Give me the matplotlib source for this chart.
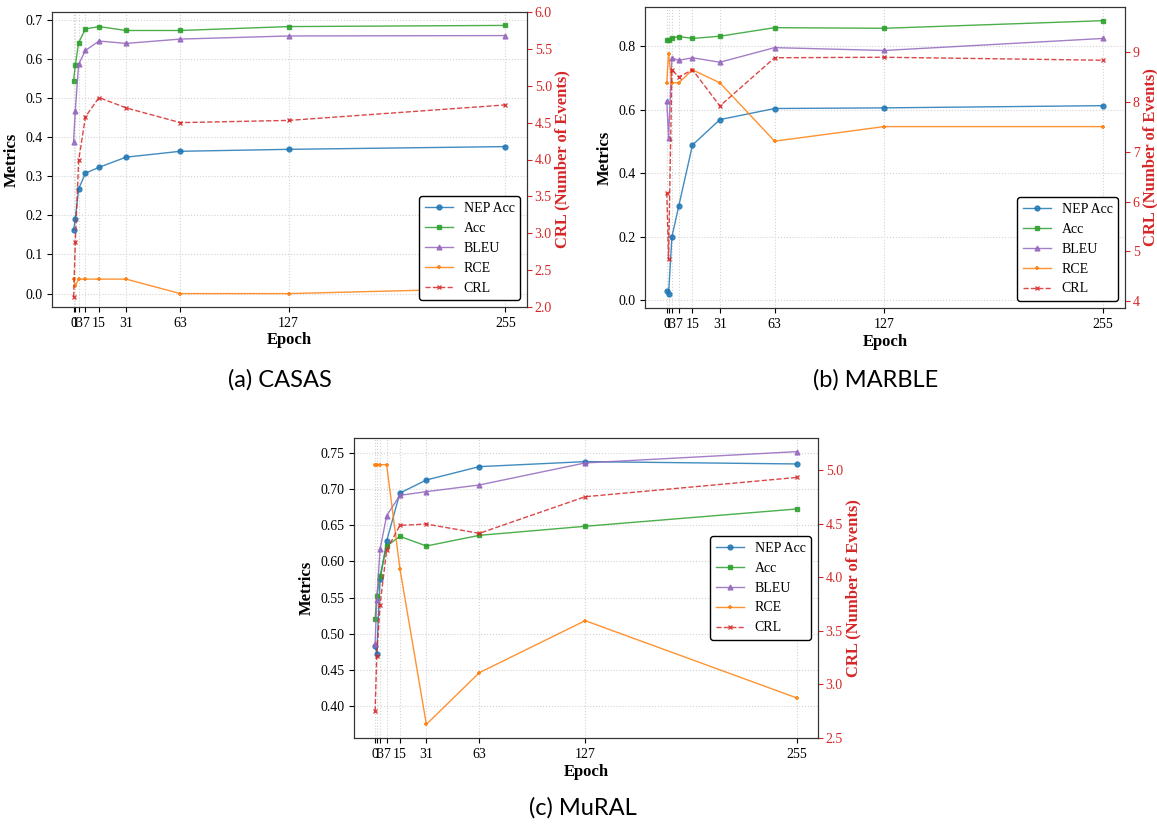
import numpy as np
import matplotlib.pyplot as plt

plt.rcParams['font.family'] = ['Liberation Serif', 'DejaVu Serif']

epochs = [0, 1, 3, 7, 15, 31, 63, 127, 255]

# (a) CASAS
casas_nep = [0.162, 0.191, 0.268, 0.308, 0.323, 0.349, 0.364, 0.369, 0.376]
casas_acc = [0.544, 0.584, 0.642, 0.677, 0.683, 0.673, 0.673, 0.683, 0.686]
casas_bleu = [0.389, 0.468, 0.587, 0.622, 0.646, 0.640, 0.651, 0.659, 0.660]
casas_rce = [0.037, 0.020, 0.037, 0.037, 0.037, 0.037, 0.0, 0.0, 0.014]
casas_crl = [2.135, 2.88, 3.99, 4.58, 4.84, 4.70, 4.50, 4.53, 4.74]

# (b) MARBLE
marble_nep = [0.028, 0.018, 0.200, 0.297, 0.489, 0.569, 0.604, 0.606, 0.613]
marble_acc = [0.821, 0.821, 0.826, 0.831, 0.825, 0.832, 0.859, 0.857, 0.881]
marble_bleu = [0.628, 0.512, 0.763, 0.756, 0.764, 0.750, 0.796, 0.787, 0.825]
marble_rce = [0.685, 0.777, 0.685, 0.685, 0.726, 0.685, 0.501, 0.547, 0.547]
marble_crl = [6.18, 4.84, 8.65, 8.50, 8.65, 7.92, 8.89, 8.90, 8.84]

# (c) MuRAL
mural_nep = [0.4833, 0.4727, 0.575, 0.6281, 0.6943, 0.7123, 0.7307, 0.7376, 0.7344]
mural_acc = [0.521, 0.5517, 0.5793, 0.6212, 0.6345, 0.6212, 0.6359, 0.6484, 0.6723]
mural_bleu = [0.4864, 0.5462, 0.6166, 0.6631, 0.6911, 0.6962, 0.7054, 0.7358, 0.7514]
mural_rce = [0.7334, 0.7334, 0.7334, 0.7334, 0.5899, 0.3751, 0.4464, 0.5182, 0.4115]
mural_crl = [2.748, 3.267, 3.742, 4.255, 4.484, 4.497, 4.41, 4.752, 4.932]

W, H = 1157, 827


def panel(rect_px, nep, acc, bleu, rce, crl, crl_lim, legend_loc, caption, cap_xy):
    l, t, r, b = rect_px
    ax = fig.add_axes([l / W, 1 - b / H, (r - l) / W, (b - t) / H])
    ax2 = ax.twinx()
    kw = dict(lw=1, ms=3.5, alpha=0.85)
    ax.plot(epochs, nep, marker='o', color='tab:blue', label='NEP Acc', **kw)
    ax.plot(epochs, acc, marker='s', color='tab:green', label='Acc', **kw)
    ax.plot(epochs, bleu, marker='^', color='tab:purple', label='BLEU', **kw)
    ax.plot(epochs, rce, marker='+', mew=1.5, color='tab:orange', label='RCE', **kw)
    ax2.plot(epochs, crl, marker='x', ls='--', color='tab:red', label='CRL', **kw)
    ax2.set_ylim(*crl_lim)

    ax.set_xticks(epochs)
    ax.set_xticklabels([str(e) for e in epochs])
    ax.grid(True, ls=':', color='lightgray', lw=0.8)
    ax.set_xlabel('Epoch', fontsize=12, fontweight='bold', labelpad=2)
    ax.set_ylabel('Metrics', fontsize=12, fontweight='bold')
    ax.tick_params(labelsize=10)
    ax2.set_ylabel('CRL (Number of Events)', fontsize=12, fontweight='bold',
                   color='tab:red', labelpad=2)
    ax2.tick_params(axis='y', colors='tab:red', labelsize=10, pad=2)
    for a in (ax, ax2):
        for s in a.spines.values():
            s.set_color('#333333')

    h1, l1 = ax.get_legend_handles_labels()
    h2, l2 = ax2.get_legend_handles_labels()
    leg = ax2.legend(h1 + h2, l1 + l2, loc=legend_loc, fontsize=10,
                     framealpha=1, edgecolor='black')
    leg.get_frame().set_linewidth(1.0)

    fig.text(cap_xy[0] / W, 1 - cap_xy[1] / H, caption, ha='center', va='center',
             fontsize=17, family='Lato')


fig = plt.figure(figsize=(W / 100, H / 100), dpi=100)

panel((52, 12, 527, 307), casas_nep, casas_acc, casas_bleu, casas_rce, casas_crl,
      (2.0, 6.0), 'lower right', '(a) CASAS', (280, 380))
panel((645, 7, 1125, 308), marble_nep, marble_acc, marble_bleu, marble_rce, marble_crl,
      (3.86, 9.91), 'lower right', '(b) MARBLE', (876, 380))
panel((354, 438, 818, 738), mural_nep, mural_acc, mural_bleu, mural_rce, mural_crl,
      (2.5, 5.3), 'center right', '(c) MuRAL', (583, 808))

plt.savefig('out.png', dpi=100)
